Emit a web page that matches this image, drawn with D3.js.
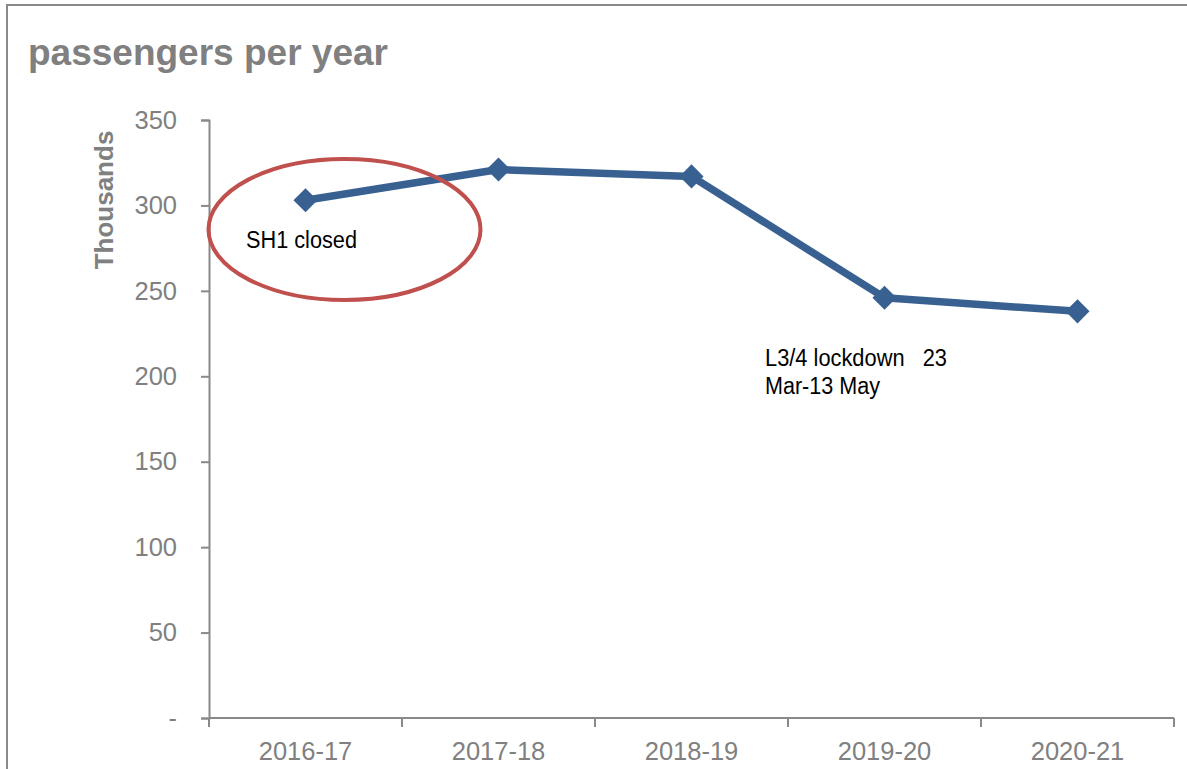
<!DOCTYPE html>
<html>
<head>
<meta charset="utf-8">
<script src="https://cdn.jsdelivr.net/npm/d3@7"></script>
<style>
html,body{margin:0;padding:0;background:#fff;}
svg{display:block;}
text{font-family:"Liberation Sans",Arial,sans-serif;}
</style>
</head>
<body>
<script>
const categories = ["2016-17","2017-18","2018-19","2019-20","2020-21"];
const passengers = [303, 321, 317, 246, 238];
const yTicks = [0, 50, 100, 150, 200, 250, 300, 350];
const title = "passengers per year";
const yTitle = "Thousands";
const notes = [
  {cat:"2016-17", lines:["SH1 closed"]},
  {cat:"2019-20", lines:["L3/4 lockdown   23","Mar-13 May"]}
];

const W = 1187, H = 769;
const svg = d3.select("body").append("svg").attr("width", W).attr("height", H);
const grey = "#808080", axisGrey = "#898989", blue = "#386192";

// outer frame (top and left edges visible)
svg.append("path").attr("d", `M7,${H} V5 H${W}`).attr("fill","none")
  .attr("stroke", axisGrey).attr("stroke-width", 2);

const x = d3.scaleBand().domain(categories).range([209, 1174]).padding(0);
const y = d3.scaleLinear().domain([0, 350]).range([718, 120]);

svg.append("text").attr("x", 28).attr("y", 65).attr("fill", grey)
  .attr("font-size", 37).attr("font-weight", "bold").text(title);

svg.append("text").attr("transform", "translate(113,200) rotate(-90)")
  .attr("text-anchor", "middle").attr("fill", grey).attr("font-size", 26)
  .attr("font-weight", "bold").text(yTitle);

// y axis
const yAxis = d3.axisLeft(y).tickValues(yTicks).tickSize(8).tickPadding(24)
  .tickFormat(d => d === 0 ? "-" : d3.format("d")(d));
const gy = svg.append("g").attr("transform", "translate(209,0)").call(yAxis);
gy.select(".domain").attr("stroke", axisGrey).attr("stroke-width", 2);
gy.selectAll(".tick line").attr("stroke", axisGrey).attr("stroke-width", 2);
gy.selectAll(".tick text").attr("fill", grey).attr("font-size", 25.5)
  .attr("font-family", "Liberation Sans, Arial, sans-serif");

// x axis with ticks at band boundaries
const gx = svg.append("g").attr("transform", "translate(0,718)");
gx.append("line").attr("x1", x.range()[0]).attr("x2", x.range()[1])
  .attr("stroke", axisGrey).attr("stroke-width", 2);
const bounds = categories.map(c => x(c)).concat([x.range()[1]]);
gx.selectAll("line.tk").data(bounds).join("line").attr("class","tk")
  .attr("x1", d => d).attr("x2", d => d).attr("y1", 0).attr("y2", 9)
  .attr("stroke", axisGrey).attr("stroke-width", 2);
gx.selectAll("text").data(categories).join("text")
  .attr("x", d => x(d) + x.bandwidth()/2).attr("y", 42)
  .attr("text-anchor", "middle").attr("fill", grey).attr("font-size", 25.5)
  .text(d => d);

const cx = c => x(c) + x.bandwidth()/2;

// line
const line = d3.line().x((d,i) => cx(categories[i])).y(d => y(d));
svg.append("path").datum(passengers).attr("d", line).attr("fill","none")
  .attr("stroke", blue).attr("stroke-width", 7.5).attr("stroke-linejoin","round");

// diamond markers
const sym = d3.symbol().type(d3.symbolSquare).size(290);
svg.selectAll("path.mk").data(passengers).join("path").attr("class","mk")
  .attr("d", sym)
  .attr("transform", (d,i) => `translate(${cx(categories[i])},${y(d)}) rotate(45)`)
  .attr("fill", blue);

// annotations
const n0 = notes[0];
svg.append("ellipse").attr("cx", cx(n0.cat) + 39).attr("cy", 229.5)
  .attr("rx", 136).attr("ry", 70.5).attr("fill","none")
  .attr("stroke", "#c0504d").attr("stroke-width", 4);
svg.append("text").attr("x", 246).attr("y", 248).attr("font-size", 23)
  .attr("fill", "#000").attr("textLength", 111).attr("lengthAdjust","spacingAndGlyphs")
  .text(n0.lines[0]);

const n1 = notes[1];
const lens = [182, 115];
n1.lines.forEach((t, i) => {
  svg.append("text").attr("x", 765).attr("y", 366 + i*28).attr("font-size", 23)
    .attr("fill", "#000").style("white-space","pre")
    .attr("textLength", lens[i]).attr("lengthAdjust","spacingAndGlyphs")
    .text(t);
});
</script>
</body>
</html>
